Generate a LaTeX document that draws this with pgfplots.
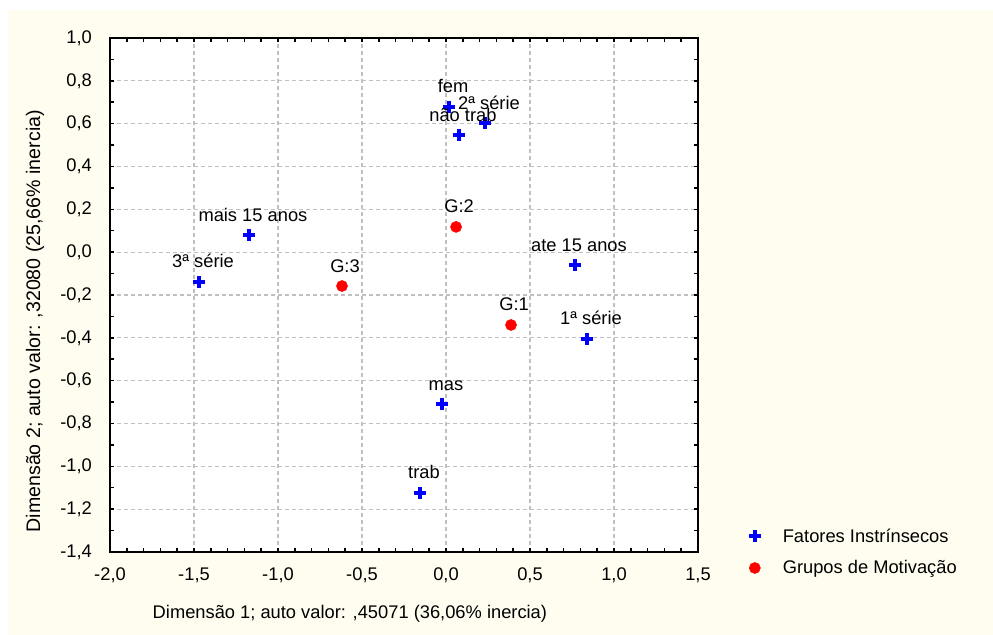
\documentclass[border=0pt]{standalone}
\usepackage{fontspec}
\setmainfont{Liberation Sans}
\usepackage{pgfplots}
\pgfplotsset{compat=1.18}
\definecolor{cream}{RGB}{255,253,240}
\definecolor{gridgray}{RGB}{192,192,192}
\begin{document}
\begin{tikzpicture}[font=\fontsize{18.3bp}{21bp}\selectfont]
\fill[white] (0,0) rectangle (993bp,635bp);
\fill[cream] (8bp,0) rectangle (993bp,625bp);
\begin{axis}[
  at={(110bp,83bp)}, anchor=south west,
  scale only axis, width=588bp, height=514bp,
  xmin=-2, xmax=1.5, ymin=-1.4, ymax=1.0,
  xtick={-2,-1.5,-1,-0.5,0,0.5,1,1.5},
  ytick={-1.4,-1.2,-1,-0.8,-0.6,-0.4,-0.2,0,0.2,0.4,0.6,0.8,1},
  minor x tick num=4, minor y tick num=1,
  tick align=inside,
  major tick length=4bp, minor tick length=4bp,
  tick style={black, line width=1.5bp},
  axis line style={black, line width=2bp},
  grid=major,
  major grid style={gridgray, line width=1.3bp, dash pattern=on 4bp off 3bp},
  axis background/.style={fill=white},
  /pgf/number format/.cd, use comma, fixed, fixed zerofill, precision=1, assume math mode=true, /pgfplots/.cd,
  xticklabel style={anchor=north, inner sep=0pt, yshift=-16bp},
  yticklabel style={anchor=east, inner sep=0pt, xshift=-18bp},
  xlabel={Dimensão 1; auto valor: ,45071 (36,06\% inercia)},
  ylabel={Dimensão 2; auto valor: ,32080 (25,66\% inercia)},
  xlabel style={at={(axis description cs:0.408,-0.1284)}, anchor=base, inner sep=0pt},
  ylabel style={at={(axis description cs:-0.119,0.449)}, anchor=base, inner sep=0pt, font=\fontsize{19.6bp}{22bp}\selectfont},
  legend style={at={(axis description cs:1.081,0)}, anchor=west, draw=none, fill=none, row sep=13bp,
    /tikz/every odd column/.append style={column sep=20bp}},
  legend cell align=left,
]
\addplot[only marks, mark=+, mark size=6bp, color=blue, mark options={line width=3.5bp},
  nodes near coords, point meta=explicit symbolic,
  every node near coord/.append style={anchor=base, xshift=4bp, yshift=14bp, text=black, inner sep=0pt}]
coordinates {
(0.018,0.678) [fem]
(0.232,0.603) [2ª série]
(0.077,0.547) [não trab]
(-1.173,0.080) [mais 15 anos]
(-1.470,-0.139) [3ª série]
(0.768,-0.060) [ate 15 anos]
(0.839,-0.405) [1ª série]
(-0.024,-0.709) [mas]
(-0.155,-1.124) [trab]
};
\addlegendentry{Fatores Instrínsecos}
\addplot[only marks, mark=*, mark size=5.6bp, color=red, mark options={fill=red, draw=none},
  nodes near coords, point meta=explicit symbolic,
  every node near coord/.append style={anchor=base, xshift=3bp, yshift=14bp, text=black, inner sep=0pt}]
coordinates {
(0.060,0.118) [G:2]
(-0.619,-0.158) [G:3]
(0.387,-0.340) [G:1]
};
\addlegendentry{Grupos de Motivação}
\end{axis}
\end{tikzpicture}
\end{document}
